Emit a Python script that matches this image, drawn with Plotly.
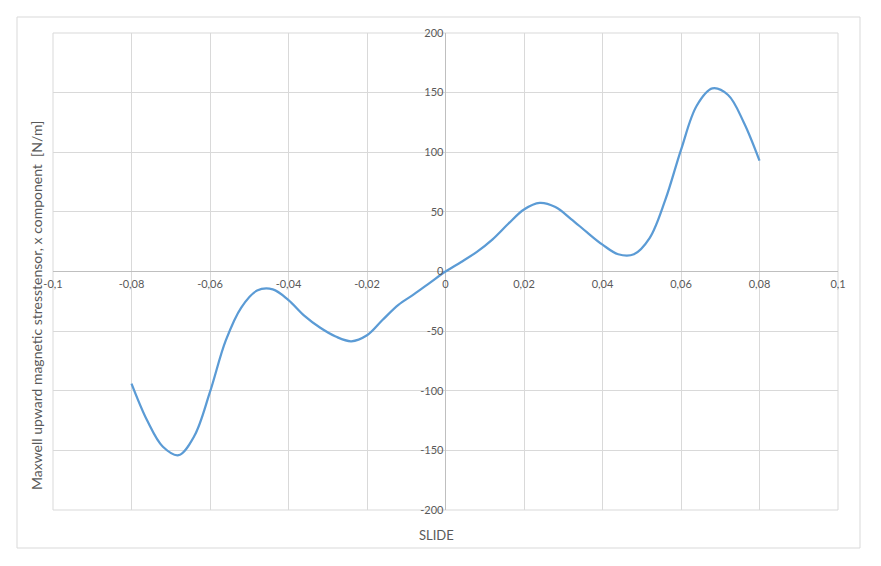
import plotly.graph_objects as go

slide = [-0.08, -0.076, -0.072, -0.068, -0.064, -0.06, -0.056, -0.052, -0.048, -0.044,
         -0.04, -0.036, -0.032, -0.028, -0.024, -0.02, -0.016, -0.012, -0.008, -0.004,
         0.0, 0.004, 0.008, 0.012, 0.016, 0.02, 0.024, 0.028, 0.032, 0.036,
         0.04, 0.044, 0.048, 0.052, 0.056, 0.06, 0.064, 0.068, 0.072, 0.076, 0.08]
force = [-94, -125, -147, -154, -138, -101, -58, -30, -16, -15,
         -24, -37, -47, -54.5, -58.5, -53.5, -40.5, -28, -19, -9.5,
         0, 8, 16.5, 27, 40, 52, 57.5, 54, 44, 33,
         22.5, 14.5, 14.5, 28, 60, 102, 139, 153.5, 148, 125, 93]

x_tickvals = [-0.1, -0.08, -0.06, -0.04, -0.02, 0, 0.02, 0.04, 0.06, 0.08, 0.1]
x_ticktext = ["-0,1", "-0,08", "-0,06", "-0,04", "-0,02", "0", "0,02", "0,04", "0,06", "0,08", "0,1"]
y_tickvals = [-200, -150, -100, -50, 0, 50, 100, 150, 200]
y_ticktext = ["-200", "-150", "-100", "-50", "0", "50", "100", "150", "200"]

FONT = "Lato"
TXT = "#595959"
GRID = "#d9d9d9"

fig = go.Figure()
fig.add_trace(go.Scatter(x=slide, y=force, mode="lines",
                         line=dict(color="#5b9bd5", width=2.25, shape="spline", smoothing=1.0),
                         showlegend=False, hoverinfo="skip"))

fig.update_layout(
    width=873, height=558,
    margin=dict(l=45, r=43, t=25, b=56),
    paper_bgcolor="white", plot_bgcolor="white",
    font=dict(family=FONT, size=11, color=TXT),
    xaxis=dict(range=[-0.1, 0.1], tickvals=x_tickvals, ticktext=x_ticktext,
               showgrid=True, gridcolor=GRID, gridwidth=1,
               zeroline=True, zerolinecolor="#bfbfbf", zerolinewidth=1,
               anchor="free", position=0.5, side="bottom", ticks="",
               showline=False, ticklabelstandoff=4, fixedrange=True),
    yaxis=dict(range=[-200, 200], tickvals=y_tickvals, ticktext=y_ticktext,
               showgrid=True, gridcolor=GRID, gridwidth=1,
               zeroline=True, zerolinecolor="#bfbfbf", zerolinewidth=1,
               anchor="free", position=0.5, side="left", ticks="",
               showline=False, ticklabelstandoff=2, fixedrange=True),
    annotations=[
        dict(text="Maxwell upward magnetic stresstensor, x component  [N/m]",
             xref="paper", yref="paper", x=(36 - 53) / 785, y=(510 - 306) / 477,
             textangle=-90, showarrow=False, xanchor="center", yanchor="middle",
             font=dict(family=FONT, size=14, color=TXT)),
        dict(text="SLIDE", xref="paper", yref="paper",
             x=(436 - 53) / 785, y=(510 - 535) / 477, showarrow=False,
             xanchor="center", yanchor="middle",
             font=dict(family=FONT, size=13, color=TXT)),
    ],
    shapes=[
        dict(type="rect", xref="paper", yref="paper",
             x0=(17 - 53) / 785, x1=(860 - 53) / 785,
             y0=(510 - 548) / 477, y1=(510 - 17) / 477,
             line=dict(color=GRID, width=1), fillcolor="rgba(0,0,0,0)", layer="below"),
        dict(type="rect", xref="paper", yref="paper", x0=0, x1=1, y0=0, y1=1,
             line=dict(color=GRID, width=1), fillcolor="rgba(0,0,0,0)", layer="below"),
    ],
)

fig.write_html("out.html")
